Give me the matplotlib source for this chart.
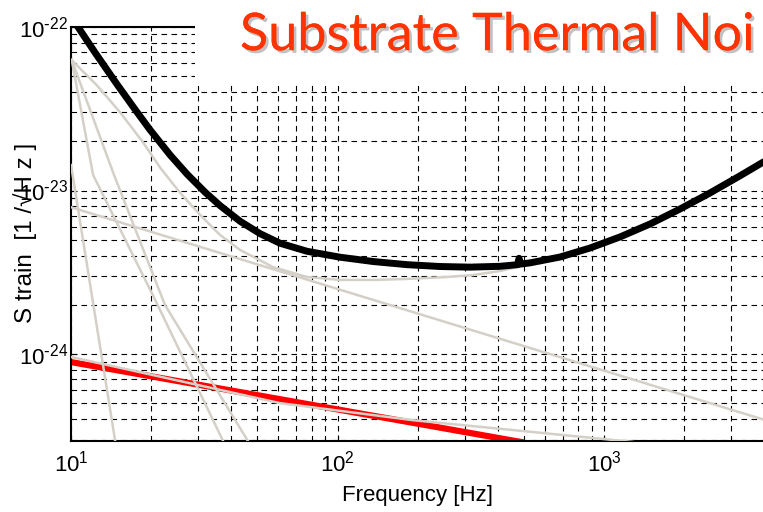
import matplotlib
matplotlib.use('Agg')
import matplotlib.pyplot as plt
from matplotlib import patheffects
from matplotlib.patches import Rectangle
from matplotlib.ticker import FuncFormatter
import numpy as np

# values: frequency [Hz], strain [1/sqrt(Hz)]
total_f = [10.3, 10.62, 12.30, 14.88, 17.39, 19.79, 23.53, 27.25, 31.83, 36.23, 43.06, 51.19,
           60.83, 76.85, 102.2, 135.9, 182.3, 242.4, 314.2, 407.3,
           474, 480, 486, 527.6, 683.9, 886.2, 1148, 1488, 1929, 2499, 3238, 3951, 4100]
total_h = [1.08e-22, 1.00e-22, 6.98e-23, 4.46e-23, 3.13e-23, 2.35e-23, 1.65e-23, 1.26e-23,
           9.77e-24, 8.09e-24, 6.49e-24, 5.45e-24, 4.76e-24, 4.25e-24, 3.91e-24, 3.68e-24,
           3.52e-24, 3.43e-24, 3.40e-24, 3.44e-24,
           3.52e-24, 3.85e-24, 3.55e-24, 3.61e-24, 3.92e-24, 4.45e-24, 5.20e-24, 6.24e-24,
           7.71e-24, 9.66e-24, 1.23e-23, 1.49e-23, 1.53e-23]

quantum_f = [10.05, 12.5, 15.3, 18.5, 21.6, 25.5, 30.5, 36.0, 43.1, 57.3, 76.8, 102, 140, 182,
             250, 322, 407, 527, 600]
quantum_h = [6.28e-23, 4.4e-23, 3.0e-23, 2.0e-23, 1.38e-23, 9.8e-24, 7.1e-24, 5.4e-24, 4.33e-24,
             3.40e-24, 2.96e-24, 2.84e-24, 2.84e-24, 2.88e-24, 2.95e-24, 3.04e-24, 3.22e-24,
             3.55e-24, 3.8e-24]

seismic_f = [10, 15.0]
seismic_h = [1.43e-23, 2.3e-25]

susp1_f = [10.06, 12.1, 20.7, 37.2]
susp1_h = [6.28e-23, 1.245e-23, 2.14e-24, 2.94e-25]

susp2_f = [10.06, 14.5, 22.5, 46.1]
susp2_h = [6.28e-23, 1.245e-23, 2.0e-24, 2.94e-25]

internal_f = [10, 4000]
internal_h = [7.9e-24, 3.96e-25]

coating_f = [10, 60.8, 192, 1285, 1500]
coating_h = [9.6e-25, 5.01e-25, 3.94e-25, 2.90e-25, 2.8e-25]

substrate_f = [10, 443, 500]
substrate_h = [8.93e-25, 2.98e-25, 2.88e-25]

grey = '#d4d0c8'
plt.rcParams['font.family'] = ['Liberation Sans', 'DejaVu Sans']

fig = plt.figure(figsize=(7.63, 5.12), dpi=100)
ax = fig.add_axes([0.0931, 0.1387, 0.9069, 0.8086])

ax.plot(substrate_f, substrate_h, color='red', lw=4.5, zorder=2, solid_capstyle='butt')
for f, h in [(seismic_f, seismic_h), (susp1_f, susp1_h), (susp2_f, susp2_h),
             (internal_f, internal_h), (coating_f, coating_h), (quantum_f, quantum_h)]:
    ax.plot(f, h, color=grey, lw=1.8, zorder=3)
ax.plot(total_f, total_h, color='black', lw=5, zorder=4)

ax.set_xscale('log')
ax.set_yscale('log')
ax.set_xlim(10, 3950)
ax.set_ylim(2.94e-25, 1e-22)


def pow_label(v, pos):
    e = int(round(np.log10(v)))
    s = str(e).replace('-', r'\text{-}')
    return r'$\mathregular{10^{%s}}$' % s


ax.xaxis.set_major_formatter(FuncFormatter(pow_label))
ax.yaxis.set_major_formatter(FuncFormatter(pow_label))

ax.grid(True, which='both', color='black', linestyle=(0, (5, 4)), linewidth=0.8)
ax.set_axisbelow(True)
ax.tick_params(which='both', direction='in', labelsize=16)
ax.tick_params(which='major', length=4)
ax.tick_params(which='minor', length=2)
ax.tick_params(axis='x', pad=7)
ax.tick_params(axis='y', pad=2)
ax.spines['right'].set_visible(False)
for s in ['left', 'bottom', 'top']:
    ax.spines[s].set_linewidth(1.5)

fig.text(0.547, 0.033, 'Frequency [Hz]', fontsize=16, ha='center', va='center')
fig.text(0.033, 0.545, 'S train  [1 /\u221aH z ]', fontsize=17.5, rotation=90,
         ha='center', va='center')

# white slide-title box over the top of the plot
fig.patches.append(Rectangle((0.2556, 0.836), 0.75, 0.17, transform=fig.transFigure,
                             facecolor='white', edgecolor='none', zorder=10))
title = fig.text(0.3145, 0.902, 'Substrate Thermal Noi', color='#ff3300', fontsize=36,
                 family=['Lato', 'DejaVu Sans'], ha='left', va='baseline', zorder=11)
title.set_path_effects([patheffects.withSimplePatchShadow(offset=(2, -2), shadow_rgbFace='#999999', alpha=0.6),
                        patheffects.Normal()])
fig.canvas.draw()
w = title.get_window_extent().width
title.set_fontsize(36 * 515 / w)

fig.savefig('out.png', dpi=100)
